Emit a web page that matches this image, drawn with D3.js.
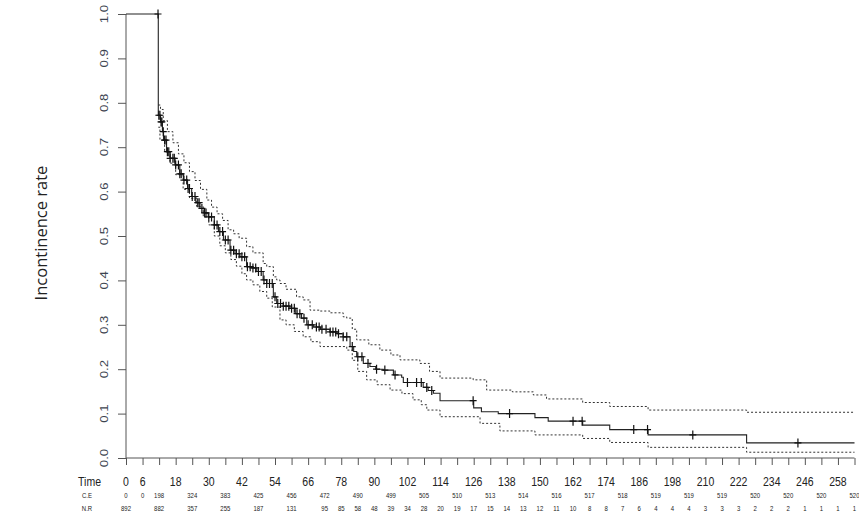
<!DOCTYPE html>
<html>
<head>
<meta charset="utf-8">
<title>Incontinence rate</title>
<style>
  body { margin: 0; background: #fff; }
  text { font-family: "Liberation Sans", Arial, sans-serif; }
</style>
</head>
<body>
<svg></svg>
<script src="https://d3js.org/d3.v7.min.js"></script>
<script>
// Kaplan-Meier estimate: [time, rate after step]
var survTimes = [0, 11.7, 12.5, 13.2, 13.6, 14.7, 16, 17.8, 19.5, 20.8, 22.3, 23.8, 25.3, 26.8, 28.3, 29.8, 32, 33.5, 35.3,
  37.7, 39.5, 41.3, 43.7, 45.5, 47.4, 49.7, 51, 53.4, 54.6, 57, 59.4, 61.5, 63.6, 65.5, 68, 70.5, 73.9, 76.5, 78.7,
  81.2, 82.5, 83.6, 86, 88.4, 90.5, 93.2, 96.9, 99.9, 100.5, 107.7, 109.5, 111.4, 113.8, 126, 128.8, 134.9, 148.2,
  153, 165.5, 175.3, 189.2, 224.9];
var survRate = [1.0, 0.772, 0.757, 0.735, 0.716, 0.69, 0.675, 0.66, 0.64, 0.626, 0.607, 0.589, 0.575, 0.562, 0.552, 0.543, 0.525, 0.51, 0.491,
  0.468, 0.46, 0.453, 0.431, 0.428, 0.42, 0.401, 0.393, 0.363, 0.348, 0.342, 0.337, 0.325, 0.315, 0.3, 0.295, 0.29, 0.284, 0.28, 0.273,
  0.251, 0.24, 0.228, 0.213, 0.206, 0.2, 0.198, 0.187, 0.182, 0.17, 0.159, 0.152, 0.146, 0.129, 0.113, 0.104, 0.1, 0.091,
  0.083, 0.074, 0.064, 0.052, 0.034];

// 95% band, upper and lower
var upperTimes = [11.7, 12.5, 13.5, 15, 17, 19, 21, 23, 25, 27, 29.3, 31, 33, 35, 37, 39, 41, 43.7, 46, 49.7, 51, 53.4, 54.6,
  55.8, 58, 61.8, 64.2, 66.7, 70, 73.9, 78.7, 80, 82, 83.6, 88, 92, 96, 99.3, 106.5, 110, 113.8, 125.8, 130.7, 140,
  147.6, 152.4, 165.5, 175.3, 189.2, 224.9];
var upperRate = [0.795, 0.785, 0.76, 0.735, 0.71, 0.685, 0.665, 0.645, 0.625, 0.605, 0.581, 0.565, 0.55, 0.535, 0.514, 0.505, 0.495, 0.476, 0.462, 0.438, 0.431, 0.408, 0.401,
  0.393, 0.38, 0.363, 0.356, 0.333, 0.331, 0.327, 0.318, 0.315, 0.29, 0.266, 0.255, 0.243, 0.232, 0.221, 0.213, 0.195, 0.18, 0.176, 0.153, 0.149,
  0.142, 0.133, 0.125, 0.116, 0.108, 0.103];
var lowerTimes = [11.7, 12.3, 14, 15.9, 18, 20.7, 23, 25.6, 28, 30, 32, 34, 36, 38, 40, 42, 43.7, 46, 48.5, 51, 53, 55.8, 58,
  61, 64.2, 67, 70.3, 80, 82, 84, 87.2, 91, 95.7, 100, 104, 107, 109, 113.8, 128.3, 135.5, 148.2, 165.5, 175.3, 189.2, 224.9];
var lowerRate = [0.745, 0.716, 0.69, 0.664, 0.638, 0.605, 0.585, 0.566, 0.543, 0.525, 0.5, 0.478, 0.462, 0.447, 0.432, 0.415, 0.401, 0.39, 0.375, 0.36, 0.34, 0.311, 0.3,
  0.285, 0.273, 0.262, 0.251, 0.243, 0.22, 0.195, 0.176, 0.165, 0.153, 0.145, 0.131, 0.12, 0.108, 0.093, 0.078, 0.061, 0.052, 0.044, 0.035, 0.024, 0.013];

// censored times (the + marks)
var censorTimes = [11.6, 11.9, 12.3, 12.7, 13, 13.5, 14, 14.5, 15, 15.5, 16, 17, 17.5, 18, 19, 19.5, 20, 21, 22, 22.5, 23, 24, 25, 26, 26.5,
  27.5, 28.5, 29, 30, 31, 32, 33, 34, 35, 36, 37, 38, 39, 40, 41, 42, 43, 44, 45, 46, 47, 48, 49, 50, 51, 52, 53, 54, 55, 56, 57,
  58, 59, 60, 61, 62, 63, 64.5, 66, 67.5, 69, 70, 71, 72.5, 74, 75, 76, 77, 78.7, 80, 82, 84, 85.5, 87.7,
  90.8, 93.8, 97.5, 102, 105.3, 107, 109, 110.8, 125.8, 139, 162, 165.3, 184, 189, 205.4, 243.5];

// table under the plot
var timeLabels = [0, 6, 18, 30, 42, 54, 66, 78, 90, 102, 114, 126, 138, 150, 162, 174, 186, 198, 210, 222, 234, 246, 258];
var ceTimes = [0, 6, 12, 24, 36, 48, 60, 72, 84, 96, 108, 120, 132, 144, 156, 168, 180, 192, 204, 216, 228, 240, 252, 264];
var ceValues = [0, 0, 198, 324, 383, 425, 456, 472, 490, 499, 505, 510, 513, 514, 516, 517, 518, 519, 519, 519, 520, 520, 520, 520];
var nrTimes = [0, 12, 24, 36, 48, 60, 72, 78, 84, 90, 96, 102, 108, 114, 120, 126, 132, 138, 144, 150, 156, 162, 168, 174,
  180, 186, 192, 198, 204, 210, 216, 222, 228, 234, 240, 246, 252, 258, 264];
var nrValues = [892, 882, 357, 255, 187, 131, 95, 85, 58, 48, 39, 34, 28, 20, 19, 17, 15, 14, 13, 12, 11, 10, 8, 8,
  7, 6, 4, 4, 4, 3, 3, 3, 2, 2, 2, 1, 1, 1, 1];
var yTicks = [0, 0.1, 0.2, 0.3, 0.4, 0.5, 0.6, 0.7, 0.8, 0.9, 1.0];

var W = 859, H = 516, tMax = 264;
var svg = d3.select("svg").attr("width", W).attr("height", H);

var x = d3.scaleLinear().domain([0, tMax]).range([126, 854.5]);
var y = d3.scaleLinear().domain([0, 1]).range([458, 14]);

function pairs(ts, vs) {
  var p = ts.map(function(t, i) { return [t, vs[i]]; });
  p.push([tMax, vs[vs.length - 1]]);
  return p;
}
var stepLine = d3.line()
  .x(function(d) { return x(d[0]); })
  .y(function(d) { return y(d[1]); })
  .curve(d3.curveStepAfter);

// axes
var axisCol = "#555";
var yAxis = svg.append("g").attr("transform", "translate(126,0)")
  .call(d3.axisLeft(y).tickValues(yTicks).tickSize(8).tickFormat(""));
var xAxis = svg.append("g").attr("transform", "translate(0,458)")
  .call(d3.axisBottom(x).tickValues(d3.range(0, tMax + 1, 6)).tickSize(7).tickFormat(""));
[yAxis, xAxis].forEach(function(a) {
  a.select(".domain").attr("stroke", axisCol).attr("d", a === yAxis ? "M0,458V14" : "M126,0H854.5");
  a.selectAll(".tick line").attr("stroke", axisCol);
});

// y tick labels, rotated as in R
svg.append("g").selectAll("text").data(yTicks).enter().append("text")
  .attr("transform", function(d) { return "translate(108," + y(d) + ") scale(1,1.2) rotate(-90)"; })
  .attr("text-anchor", "middle")
  .attr("font-size", 11)
  .attr("fill", "#3c4450")
  .text(function(d) { return d3.format(".1f")(d); });

// y title
svg.append("text")
  .attr("transform", "translate(47,233) rotate(-90)")
  .attr("text-anchor", "middle")
  .style("font-family", "'Open Sans', 'Noto Sans', sans-serif")
  .attr("font-size", 16.5)
  .attr("fill", "#222")
  .text("Incontinence rate");

// confidence band (dotted) and estimate
svg.append("path").datum(pairs(upperTimes, upperRate))
  .attr("d", stepLine).attr("fill", "none").attr("stroke", "#333")
  .attr("stroke-width", 1).attr("stroke-dasharray", "2,2");
svg.append("path").datum(pairs(lowerTimes, lowerRate))
  .attr("d", stepLine).attr("fill", "none").attr("stroke", "#333")
  .attr("stroke-width", 1).attr("stroke-dasharray", "2,2");
svg.append("path").datum(pairs(survTimes, survRate))
  .attr("d", stepLine).attr("fill", "none").attr("stroke", "#222").attr("stroke-width", 1.1);

// rate at a time, from the step data
function rateAt(t) {
  var i = d3.bisectRight(survTimes, t) - 1;
  return survRate[Math.max(i, 0)];
}
svg.append("g").selectAll("path").data(censorTimes).enter().append("path")
  .attr("d", function(t) {
    var cx = x(t), cy = y(rateAt(t));
    return "M" + (cx - 3.5) + "," + cy + "h7M" + cx + "," + (cy - 4.5) + "v9";
  })
  .attr("stroke", "#111").attr("stroke-width", 1.2).attr("fill", "none");

// risk table
function rowText(cls, txt, tx, ty, size, anchor) {
  svg.append("text").attr("class", cls)
    .attr("transform", "translate(" + tx + "," + ty + ") scale(1,1.2)")
    .attr("text-anchor", anchor || "middle")
    .attr("font-size", size).attr("fill", "#222").text(txt);
}
rowText("lab", "Time", 101, 486, 10.5, "end");
timeLabels.forEach(function(t) { rowText("tl", t, x(t), 486, 10.5); });
rowText("lab", "C.E", 87, 497.5, 6);
ceTimes.forEach(function(t, i) { rowText("ce", ceValues[i], x(t), 497.5, 6); });
rowText("lab", "N.R", 87, 510.5, 6);
nrTimes.forEach(function(t, i) { rowText("nr", nrValues[i], x(t), 510.5, 6); });
</script>
</body>
</html>
